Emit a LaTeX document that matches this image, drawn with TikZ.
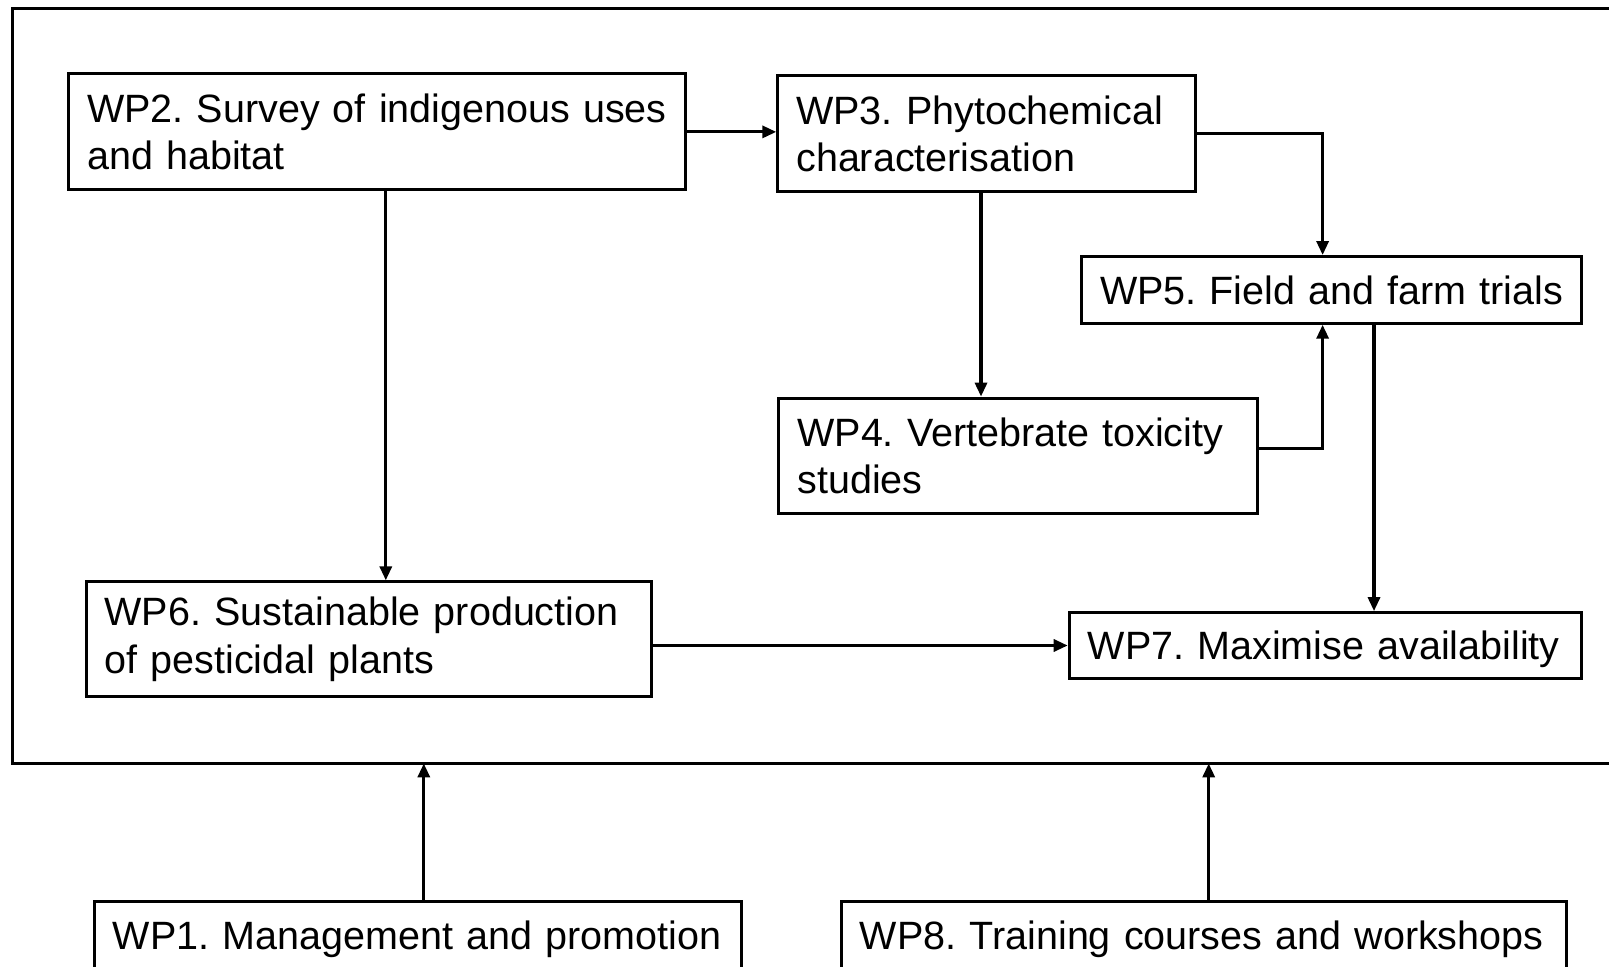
\documentclass[tikz,border=0pt]{standalone}
\usepackage{fontspec}
\setmainfont{Liberation Sans}
\usetikzlibrary{arrows.meta}
\frenchspacing
\begin{document}
\begin{tikzpicture}[x=0.5pt,y=-0.5pt,
  wp/.style={draw, line width=1.5pt, rectangle, inner xsep=9.25pt, inner ysep=0pt,
    align=left, font=\fontsize{19.75}{23.6}\selectfont\frenchspacing},
  oneline/.style={wp, text depth=0pt},
  arr/.style={line width=1.6pt, -{Triangle[length=7pt,width=6pt]}},
  frame/.style={line width=1.5pt}
  ]
\useasboundingbox (0,0) rectangle (1609,967);
\clip (0,0) rectangle (1609,967);
\draw[frame] (1612,8.2) -- (12.3,8.2) -- (12.3,763.4) -- (1612,763.4);
\coordinate (framebot) at (12.3,763.4);

\node[wp, text width=289.85pt, minimum height=57.95pt] (wp2) at (377,131.9) {\mbox{WP2. Survey of indigenous uses}\\\mbox{and habitat}};
\node[wp, text width=190.3pt, minimum height=58pt] (wp3) at (986.6,133.9) {\mbox{WP3. Phytochemical}\\\mbox{characterisation}};
\node[oneline, text width=231.35pt, minimum height=33.35pt] (wp5) at (1331.4,289.9) {\mbox{WP5. Field and farm trials}};
\node[wp, text width=221.05pt, minimum height=57.5pt] (wp4) at (1018.4,455.6) {\mbox{WP4. Vertebrate toxicity}\\\mbox{studies}};
\node[wp, text width=264.2pt, minimum height=57.45pt] (wp6) at (368.9,639.3) {\mbox{WP6. Sustainable production}\\\mbox{of pesticidal plants}};
\node[oneline, text width=237.5pt, minimum height=32.85pt] (wp7) at (1325.2,645.5) {\mbox{WP7. Maximise availability}};
\node[oneline, text width=305.25pt, minimum height=33.35pt] (wp1) at (418.2,935.3) {\mbox{WP1. Management and promotion}};
\node[oneline, text width=344.25pt, minimum height=33.35pt] (wp8) at (1204.2,935.3) {\mbox{WP8. Training courses and workshops}};

\draw[arr] (wp2.east) -- (wp2.east -| wp3.west);
\draw[arr] ([xshift=4.4pt]wp2.south) -- ([xshift=4.4pt]wp2.south |- wp6.north);
\draw[arr] (wp3.east) -| ([xshift=-4.4pt]wp5.north);
\draw[arr] ([xshift=-2.8pt]wp3.south) -- ([xshift=-2.8pt]wp3.south |- wp4.north);
\draw[arr] ([yshift=3.6pt]wp4.east) -| ([xshift=-4.4pt]wp5.south);
\draw[arr] ([xshift=21.3pt]wp5.south) -- ([xshift=21.3pt]wp5.south |- wp7.north);
\draw[arr] (wp7.west -| wp6.east) -- (wp7.west);
\draw[arr] ([xshift=2.8pt]wp1.north) -- ([xshift=2.8pt]wp1.north |- framebot);
\draw[arr] ([xshift=2.25pt]wp8.north) -- ([xshift=2.25pt]wp8.north |- framebot);
\end{tikzpicture}
\end{document}
